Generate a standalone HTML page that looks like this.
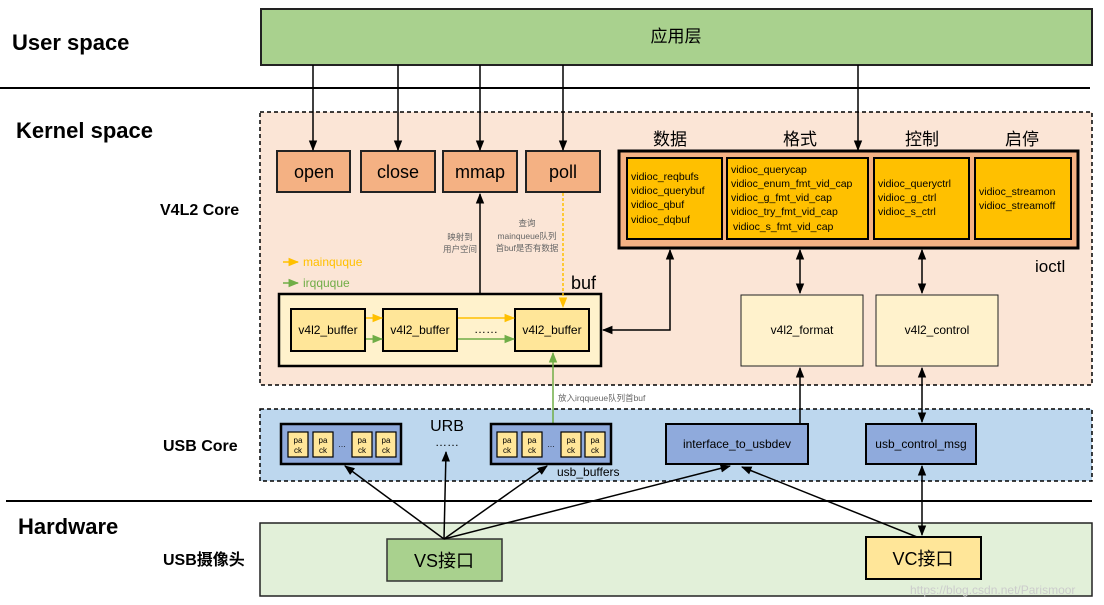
<!DOCTYPE html>
<html><head><meta charset="utf-8"><style>
html,body{margin:0;padding:0;background:#fff;}
svg{display:block;font-family:"Liberation Sans","Noto Sans CJK SC",sans-serif;}
</style></head><body>
<svg width="1104" height="605" viewBox="0 0 1104 605" xmlns="http://www.w3.org/2000/svg">
<defs>
<marker id="a" viewBox="0 0 10 10" refX="9" refY="5" markerWidth="7" markerHeight="7" orient="auto-start-reverse"><path d="M0,1 L10,5 L0,9 z" fill="#000"/></marker>
<marker id="ay" viewBox="0 0 10 10" refX="9" refY="5" markerWidth="7" markerHeight="7" orient="auto"><path d="M0,1 L10,5 L0,9 z" fill="#ffc000"/></marker>
<marker id="ag" viewBox="0 0 10 10" refX="9" refY="5" markerWidth="7" markerHeight="7" orient="auto"><path d="M0,1 L10,5 L0,9 z" fill="#70ad47"/></marker>
</defs>

<text x="12" y="50" font-size="22" font-weight="bold">User space</text>
<text x="16" y="138" font-size="22" font-weight="bold">Kernel space</text>
<text x="160" y="215" font-size="16" font-weight="bold">V4L2 Core</text>
<text x="163" y="451" font-size="16" font-weight="bold">USB Core</text>
<text x="18" y="534" font-size="22" font-weight="bold">Hardware</text>
<text x="163" y="565" font-size="16" font-weight="bold">USB摄像头</text>

<line x1="0" y1="88" x2="1090" y2="88" stroke="#000" stroke-width="2"/>
<line x1="6" y1="501" x2="1092" y2="501" stroke="#000" stroke-width="2"/>

<rect x="261" y="9" width="831" height="56" fill="#a9d18e" stroke="#222" stroke-width="2"/>
<text x="676" y="42" font-size="17" text-anchor="middle">应用层</text>

<rect x="260" y="112" width="832" height="273" fill="#fbe5d6" stroke="#000" stroke-width="1.5" stroke-dasharray="4,3"/>

<g fill="#f4b183" stroke="#222" stroke-width="2">
<rect x="277" y="151" width="73" height="41"/>
<rect x="361" y="151" width="74" height="41"/>
<rect x="443" y="151" width="74" height="41"/>
<rect x="526" y="151" width="74" height="41"/>
</g>
<g font-size="18" text-anchor="middle">
<text x="314" y="178">open</text><text x="398" y="178">close</text>
<text x="480" y="178">mmap</text><text x="563" y="178">poll</text>
</g>
<g stroke="#000" stroke-width="1.5" marker-end="url(#a)">
<line x1="313" y1="65" x2="313" y2="150"/>
<line x1="398" y1="65" x2="398" y2="150"/>
<line x1="480" y1="65" x2="480" y2="150"/>
<line x1="563" y1="65" x2="563" y2="150"/>
<line x1="858" y1="65" x2="858" y2="150"/>
</g>

<rect x="619" y="151" width="459" height="97" fill="#f4b183" stroke="#000" stroke-width="3"/>
<g fill="#ffc000" stroke="#000" stroke-width="2">
<rect x="627" y="158" width="95" height="81"/>
<rect x="727" y="158" width="141" height="81"/>
<rect x="874" y="158" width="95" height="81"/>
<rect x="975" y="158" width="96" height="81"/>
</g>
<g font-size="17" text-anchor="middle">
<text x="670" y="145">数据</text><text x="800" y="145">格式</text>
<text x="922" y="145">控制</text><text x="1022" y="145">启停</text>
</g>
<g font-size="10.5">
<text x="631" y="180">vidioc_reqbufs</text><text x="631" y="194">vidioc_querybuf</text>
<text x="631" y="208">vidioc_qbuf</text><text x="631" y="223">vidioc_dqbuf</text>
<text x="731" y="173">vidioc_querycap</text><text x="731" y="187">vidioc_enum_fmt_vid_cap</text>
<text x="731" y="201">vidioc_g_fmt_vid_cap</text><text x="731" y="215">vidioc_try_fmt_vid_cap</text>
<text x="733" y="230">vidioc_s_fmt_vid_cap</text>
<text x="878" y="187">vidioc_queryctrl</text><text x="878" y="201">vidioc_g_ctrl</text>
<text x="878" y="215">vidioc_s_ctrl</text>
<text x="979" y="195">vidioc_streamon</text><text x="979" y="209">vidioc_streamoff</text>
</g>
<text x="1035" y="272" font-size="17">ioctl</text>

<line x1="283" y1="262" x2="298" y2="262" stroke="#ffc000" stroke-width="1.5" marker-end="url(#ay)"/>
<text x="303" y="266" font-size="12" fill="#ffc000">mainquque</text>
<line x1="283" y1="283" x2="298" y2="283" stroke="#70ad47" stroke-width="1.5" marker-end="url(#ag)"/>
<text x="303" y="287" font-size="12" fill="#70ad47">irqquque</text>

<text x="571" y="289" font-size="18">buf</text>
<rect x="279" y="294" width="322" height="72" fill="#fff2cc" stroke="#000" stroke-width="2.5"/>
<g fill="#ffe699" stroke="#000" stroke-width="2">
<rect x="291" y="309" width="74" height="42"/>
<rect x="383" y="309" width="74" height="42"/>
<rect x="515" y="309" width="74" height="42"/>
</g>
<g font-size="12" text-anchor="middle">
<text x="328" y="334">v4l2_buffer</text><text x="420" y="334">v4l2_buffer</text>
<text x="552" y="334">v4l2_buffer</text><text x="486" y="333">……</text>
</g>
<g stroke="#ffc000" stroke-width="1.5" marker-end="url(#ay)">
<line x1="366" y1="318" x2="382" y2="318"/><line x1="458" y1="318" x2="514" y2="318"/>
</g>
<g stroke="#70ad47" stroke-width="1.5" marker-end="url(#ag)">
<line x1="366" y1="339" x2="382" y2="339"/><line x1="458" y1="339" x2="514" y2="339"/>
</g>
<line x1="480" y1="294" x2="480" y2="194" stroke="#000" stroke-width="1.5" marker-end="url(#a)"/>
<line x1="563" y1="193" x2="563" y2="307" stroke="#ffc000" stroke-width="1.5" stroke-dasharray="3,2" marker-end="url(#ay)"/>
<g font-size="8.5" fill="#666" text-anchor="middle">
<text x="460" y="240">映射到</text><text x="460" y="252">用户空间</text>
<text x="527" y="226">查询</text><text x="527" y="239">mainqueue队列</text><text x="527" y="251">首buf是否有数据</text>
</g>
<polyline points="670,250 670,330 603,330" fill="none" stroke="#000" stroke-width="1.5" marker-start="url(#a)" marker-end="url(#a)"/>

<rect x="741" y="295" width="122" height="71" fill="#fff2cc" stroke="#222" stroke-width="1"/>
<rect x="876" y="295" width="122" height="71" fill="#fff2cc" stroke="#222" stroke-width="1"/>
<text x="802" y="334" font-size="12" text-anchor="middle">v4l2_format</text>
<text x="937" y="334" font-size="12" text-anchor="middle">v4l2_control</text>
<g stroke="#000" stroke-width="1.5" marker-start="url(#a)" marker-end="url(#a)">
<line x1="800" y1="250" x2="800" y2="293"/>
<line x1="922" y1="250" x2="922" y2="293"/>
</g>

<rect x="260" y="409" width="832" height="72" fill="#bdd7ee" stroke="#000" stroke-width="1.5" stroke-dasharray="4,3"/>
<line x1="800" y1="424" x2="800" y2="368" stroke="#000" stroke-width="1.5" marker-end="url(#a)"/>
<line x1="922" y1="368" x2="922" y2="422" stroke="#000" stroke-width="1.5" marker-start="url(#a)" marker-end="url(#a)"/>
<line x1="553" y1="424" x2="553" y2="353" stroke="#70ad47" stroke-width="1.5" marker-end="url(#ag)"/>
<text x="558" y="401" font-size="8.5" fill="#666">放入irqqueue队列首buf</text>
<g fill="#8faadc" stroke="#000" stroke-width="2.5">
<rect x="281" y="424" width="120" height="40"/>
<rect x="491" y="424" width="120" height="40"/>
</g>
<g fill="#ffe699" stroke="#000" stroke-width="1.2">
<rect x="288" y="432" width="20" height="25"/><rect x="313" y="432" width="20" height="25"/>
<rect x="352" y="432" width="20" height="25"/><rect x="376" y="432" width="20" height="25"/>
<rect x="497" y="432" width="20" height="25"/><rect x="522" y="432" width="20" height="25"/>
<rect x="561" y="432" width="20" height="25"/><rect x="585" y="432" width="20" height="25"/>
</g>
<g font-size="8" text-anchor="middle">
<text x="298" y="443">pa</text><text x="298" y="453">ck</text><text x="323" y="443">pa</text><text x="323" y="453">ck</text>
<text x="362" y="443">pa</text><text x="362" y="453">ck</text><text x="386" y="443">pa</text><text x="386" y="453">ck</text>
<text x="507" y="443">pa</text><text x="507" y="453">ck</text><text x="532" y="443">pa</text><text x="532" y="453">ck</text>
<text x="571" y="443">pa</text><text x="571" y="453">ck</text><text x="595" y="443">pa</text><text x="595" y="453">ck</text>
<text x="342" y="447">…</text><text x="551" y="447">…</text>
</g>
<text x="447" y="431" font-size="16" text-anchor="middle">URB</text>
<text x="447" y="446" font-size="12" text-anchor="middle">……</text>
<text x="557" y="476" font-size="12">usb_buffers</text>
<rect x="666" y="424" width="142" height="40" fill="#8faadc" stroke="#000" stroke-width="2"/>
<rect x="866" y="424" width="110" height="40" fill="#8faadc" stroke="#000" stroke-width="2"/>
<text x="737" y="448" font-size="12" text-anchor="middle">interface_to_usbdev</text>
<text x="921" y="448" font-size="12" text-anchor="middle">usb_control_msg</text>

<rect x="260" y="523" width="832" height="73" fill="#e2f0d9" stroke="#222" stroke-width="1.5"/>
<rect x="387" y="539" width="115" height="42" fill="#a9d18e" stroke="#333" stroke-width="1.5"/>
<rect x="866" y="537" width="115" height="42" fill="#ffe699" stroke="#000" stroke-width="2"/>
<text x="444" y="567" font-size="18" text-anchor="middle">VS接口</text>
<text x="923" y="565" font-size="18" text-anchor="middle">VC接口</text>
<text x="910" y="594" font-size="12" fill="#ccc">https://blog.csdn.net/Parismoor</text>
<g stroke="#000" stroke-width="1.5" marker-end="url(#a)">
<line x1="444" y1="539" x2="345" y2="466"/>
<line x1="444" y1="539" x2="446" y2="452"/>
<line x1="444" y1="539" x2="547" y2="466"/>
<line x1="444" y1="539" x2="730" y2="466"/>
<line x1="917" y1="537" x2="742" y2="467"/>
</g>
<line x1="922" y1="466" x2="922" y2="535" stroke="#000" stroke-width="1.5" marker-start="url(#a)" marker-end="url(#a)"/>
</svg>
</body></html>
